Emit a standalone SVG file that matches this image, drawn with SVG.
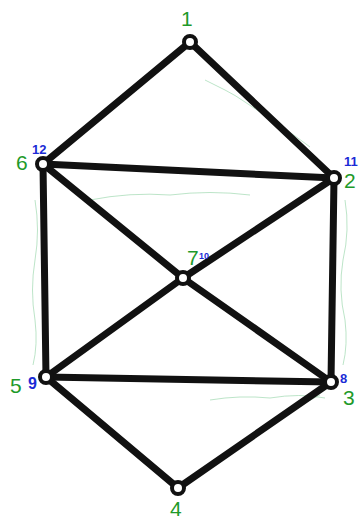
<svg xmlns="http://www.w3.org/2000/svg" width="362" height="519" viewBox="0 0 362 519">
<style>
.e{stroke:#111;stroke-width:7;stroke-linecap:round;fill:none}
.n{fill:#fff;stroke:#111;stroke-width:4}
.g{fill:#1e9a2a;font-family:"Liberation Sans",sans-serif;font-size:21px}
.b{fill:#1b2bd6;font-family:"Liberation Sans",sans-serif;font-size:13px;font-weight:bold}
.h{stroke:#9fd8b0;stroke-width:1;fill:none;opacity:0.7}
</style>
<rect width="362" height="519" fill="#fff"/>
<g id="hatch">
<path class="h" d="M205 80 q10 5 20 10 q10 5 20 12 q15 10 30 20 q15 10 35 25"/>
<path class="h" d="M35 200 q5 30 0 60 q-5 30 0 60 q3 25 -2 45"/>
<path class="h" d="M345 200 q5 30 -2 60 q-5 30 2 60 q3 25 -2 45"/>
<path class="h" d="M210 400 q30 -5 60 -2 q30 -5 55 0"/>
<path class="h" d="M200 470 q30 -20 60 -40 q20 -15 60 -35"/>
<path class="h" d="M90 200 q40 -8 80 -5 q40 -5 80 0"/>
</g>
<g id="connectors">
<line class="e" x1="190" y1="42" x2="43" y2="164"/>
<line class="e" x1="190" y1="42" x2="334" y2="178"/>
<line class="e" x1="43" y1="164" x2="334" y2="178"/>
<line class="e" x1="43" y1="164" x2="46" y2="377"/>
<line class="e" x1="334" y1="178" x2="331" y2="382"/>
<line class="e" x1="43" y1="164" x2="183" y2="278"/>
<line class="e" x1="183" y1="278" x2="331" y2="382"/>
<line class="e" x1="334" y1="178" x2="183" y2="278"/>
<line class="e" x1="183" y1="278" x2="46" y2="377"/>
<line class="e" x1="46" y1="377" x2="331" y2="382"/>
<line class="e" x1="46" y1="377" x2="178" y2="488"/>
<line class="e" x1="331" y1="382" x2="178" y2="488"/>
</g>
<g id="node1"><circle class="n" cx="190" cy="42" r="6"/><text class="g" x="181" y="26">1</text></g>
<g id="node6"><circle class="n" cx="43" cy="164" r="6"/><text class="g" x="16" y="170">6</text><text class="b" x="32" y="154">12</text></g>
<g id="node2"><circle class="n" cx="334" cy="178" r="6"/><text class="b" x="344" y="166">11</text><text class="g" x="344" y="188">2</text></g>
<g id="node7"><circle class="n" cx="183" cy="278" r="6"/><text class="g" x="187" y="265">7</text><text class="b" x="199" y="259" style="font-size:9px">10</text></g>
<g id="node5"><circle class="n" cx="46" cy="377" r="6"/><text class="g" x="10" y="393">5</text><text class="b" x="28" y="389" style="font-size:16px">9</text></g>
<g id="node3"><circle class="n" cx="331" cy="382" r="6"/><text class="b" x="340" y="383">8</text><text class="g" x="343" y="405">3</text></g>
<g id="node4"><circle class="n" cx="178" cy="488" r="6"/><text class="g" x="170" y="516">4</text></g>
</svg>
